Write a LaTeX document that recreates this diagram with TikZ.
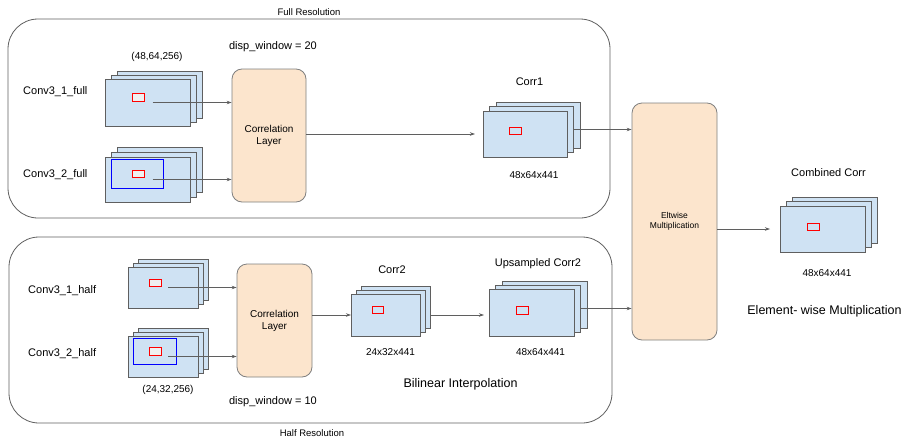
\documentclass[tikz,border=0pt]{standalone}
\usepackage{fontspec}
\setmainfont{Liberation Sans}
\usetikzlibrary{arrows.meta}
\definecolor{mapblue}{HTML}{CFE2F3}
\definecolor{peach}{HTML}{FCE5CD}
\definecolor{edgegray}{HTML}{5F5F5F}
\newcommand{\featstack}[7]{%
  \node[fmap,minimum width=#4,minimum height=#5] (#1-b2) at (#2+2*#6,#3-2*#7) {};
  \node[fmap,minimum width=#4,minimum height=#5] (#1-b1) at (#2+#6,#3-#7) {};
  \node[fmap,minimum width=#4,minimum height=#5] (#1) at (#2,#3) {};}
\begin{document}
\begin{tikzpicture}[x=1pt,y=-1pt,
  fmap/.style={draw=edgegray,fill=mapblue,line width=0.8pt,anchor=north west,inner sep=0pt,outer sep=0pt},
  roi/.style={draw=red,line width=0.8pt,minimum width=12,minimum height=7.5,inner sep=0pt},
  win/.style={draw=blue,line width=0.9pt,anchor=north west,inner sep=0pt},
  layer/.style={draw=edgegray!80,fill=peach,line width=0.8pt,rounded corners=10pt,align=center,inner sep=0pt},
  group/.style={draw=edgegray,line width=0.8pt,rounded corners=30pt},
  flow/.style={draw=edgegray,line width=0.7pt,-{Stealth[length=5pt,width=3.5pt]}},
  lbl/.style={font=\fontsize{11}{13}\selectfont,inner sep=0pt},
  dim/.style={font=\fontsize{10}{12}\selectfont,inner sep=0pt},
  big/.style={font=\fontsize{12.5}{15}\selectfont,inner sep=0pt},
  tag/.style={font=\fontsize{9.5}{11}\selectfont,inner sep=0pt}]
\useasboundingbox (0,0) rectangle (904,439);

\draw[group] (8,19) rectangle (610,218);
\draw[group] (9,237) rectangle (612,423);
\node[tag] (fullres) at (309,12) {Full Resolution};
\node[tag] (halfres) at (312,433) {Half Resolution};

\featstack{c31f}{105}{79}{85}{47}{6}{4}
\featstack{c32f}{105}{157}{85}{45}{6}{5}
\featstack{c1}{483}{111}{84}{46}{6.5}{4.5}
\featstack{comb}{780}{206}{85}{46}{6}{4.5}
\featstack{c31h}{128}{267}{70}{41}{5}{4}
\featstack{c32h}{128}{336}{70}{41}{5}{4}
\featstack{c2}{351}{294}{69}{42}{5}{4}
\featstack{up}{489}{289}{85}{47}{6.5}{4}

\node[win,minimum width=52,minimum height=29] (c32f-win) at (111,159) {};
\node[win,minimum width=43,minimum height=26] (c32h-win) at (133,338) {};
\node[roi,fill=gray!12] (c31f-roi) at (138,97.5) {};
\node[roi,fill=gray!12] (c32f-roi) at (138,174) {};
\node[roi,fill=gray!12] (c31h-roi) at (155.5,283) {};
\node[roi,fill=gray!12] (c32h-roi) at (155.5,351.5) {};
\node[roi] (c1-roi) at (515.5,131) {};
\node[roi] (comb-roi) at (813,227) {};
\node[roi,minimum width=11,minimum height=6.5] (c2-roi) at (377.5,310) {};
\node[roi] (up-roi) at (522,310.5) {};

\node[layer,minimum width=74,minimum height=133,font=\fontsize{10}{12}\selectfont] (corrfull) at (269,135.5) {Correlation\\Layer};
\node[layer,minimum width=75,minimum height=113,font=\fontsize{10}{12}\selectfont] (corrhalf) at (274.5,320.5) {Correlation\\Layer};
\node[layer,minimum width=85,minimum height=237,font=\fontsize{8.5}{10.5}\selectfont] (elt) at (674.5,221.5) {Eltwise\\Multiplication};

\node[lbl,anchor=west] (c31f-lbl) at (23,92) {Conv3\_1\_full};
\node[lbl,anchor=west] (c32f-lbl) at (23,175) {Conv3\_2\_full};
\node[lbl,anchor=west] (c31h-lbl) at (28,291) {Conv3\_1\_half};
\node[lbl,anchor=west] (c32h-lbl) at (28,354) {Conv3\_2\_half};
\node[dim] (fullshape) at (157,57) {(48,64,256)};
\node[dim] (halfshape) at (168,390) {(24,32,256)};
\node[lbl] (dispfull) at (273,47) {disp\_window = 20};
\node[lbl] (disphalf) at (273,402) {disp\_window = 10};
\node[lbl] (c1-lbl) at (529.5,82) {Corr1};
\node[dim] (c1-dim) at (534,175) {48x64x441};
\node[lbl] (c2-lbl) at (392,270) {Corr2};
\node[dim] (c2-dim) at (390.5,352) {24x32x441};
\node[lbl] (up-lbl) at (538,264) {Upsampled Corr2};
\node[dim] (up-dim) at (540.5,352) {48x64x441};
\node[big] (bilinear) at (460.5,384) {Bilinear Interpolation};
\node[lbl] (comb-lbl) at (828.5,173) {Combined Corr};
\node[dim] (comb-dim) at (827,273) {48x64x441};
\node[big] (eltnote) at (824.5,311) {Element- wise Multiplication};

\draw[flow] ([xshift=5pt]c31f.center) -- (corrfull.west |- c31f.center);
\draw[flow] ([xshift=5pt]c32f.center) -- (corrfull.west |- c32f.center);
\draw[flow] (corrfull.east |- c1.west) -- ([xshift=-8pt]c1.west);
\draw[flow] (c1-b1.east) -- (elt.west |- c1-b1.east);
\draw[flow] (elt.east |- comb.west) -- ([xshift=-10pt]comb.west);
\draw[flow] ([xshift=5pt]c31h.center) -- (corrhalf.west |- c31h.center);
\draw[flow] ([xshift=5pt]c32h.center) -- (corrhalf.west |- c32h.center);
\draw[flow] (corrhalf.east |- c2.west) -- (c2.west);
\draw[flow] (c2-b2.east |- c2.east) -- ([xshift=-5pt]up.west |- c2.east);
\draw[flow] (up-b1.east) -- (elt.west |- up-b1.east);
\end{tikzpicture}
\end{document}
